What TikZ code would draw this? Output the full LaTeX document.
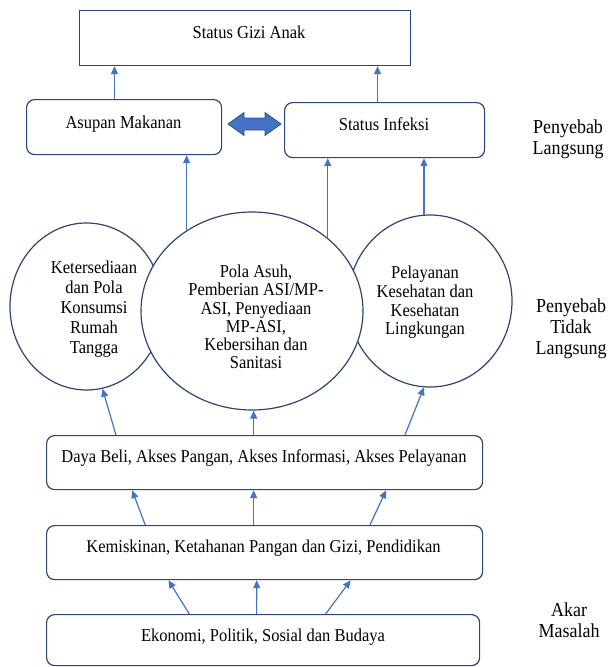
\documentclass[tikz,border=0pt]{standalone}
\usepackage{fontspec}
\setmainfont{Liberation Serif}
\usetikzlibrary{arrows.meta,shapes.geometric,calc}
\definecolor{boxc}{HTML}{2F4476}
\definecolor{arrc}{HTML}{4472C4}
\definecolor{dblc}{HTML}{2F528F}
\begin{document}
\begin{tikzpicture}[x=1pt,y=-1pt,
  sqbox/.style={draw=boxc, line width=1.2pt, inner sep=0pt, anchor=north west},
  rbox/.style={sqbox, rounded corners=8pt},
  circ/.style={ellipse, draw=boxc, line width=1.2pt, inner sep=0pt, fill=white},
  txt/.style={font=\fontsize{16.5}{17.7}\selectfont, inner sep=0pt, align=center, yscale=1.1},
  side/.style={font=\fontsize{18}{19}\selectfont, inner sep=0pt, align=center, yscale=1.1},
  arr/.style={draw=arrc, line width=1.2pt, -{Triangle[length=8pt,width=7pt]}},
  dbl/.style={draw=dblc, fill=arrc, line width=0.8pt, line join=miter}]
\useasboundingbox (0,0) rectangle (612,667);

% boxes
\node[sqbox, minimum width=331pt, minimum height=55pt] (gizi) at (79,10) {};
\node[rbox, minimum width=195pt, minimum height=55pt] (asupan) at (26,99) {};
\node[rbox, minimum width=200pt, minimum height=55pt] (infeksi) at (284,102) {};
\node[rbox, minimum width=436pt, minimum height=54pt] (daya) at (46,435) {};
\node[rbox, minimum width=436pt, minimum height=54pt] (kem) at (46,525) {};
\node[rbox, minimum width=433pt, minimum height=51pt] (eko) at (46,614) {};

% box texts
\node[txt, anchor=base] (gizit) at (249,38.5) {Status Gizi Anak};
\node[txt, anchor=base] (asupant) at (123.5,128.5) {Asupan Makanan};
\node[txt, anchor=base] (infeksit) at (384,130.5) {Status Infeksi};
\node[txt, anchor=base] (dayat) at (264,462.5) {Daya Beli, Akses Pangan, Akses Informasi, Akses Pelayanan};
\node[txt, anchor=base] (kemt) at (263.5,552.5) {Kemiskinan, Ketahanan Pangan dan Gizi, Pendidikan};
\node[txt, anchor=base] (ekot) at (263,641.5) {Ekonomi, Politik, Sosial dan Budaya};

% circles
\node[circ, minimum width=153pt, minimum height=167pt] (left) at (86.5,306.5) {};
\node[circ, minimum width=164pt, minimum height=172pt] (right) at (430,301) {};
\node[circ, minimum width=222pt, minimum height=198pt] (mid) at (252,311) {};

\node[txt, font=\fontsize{16.5}{18.3}\selectfont] (leftt) at (94,309) {Ketersediaan\\dan Pola\\Konsumsi\\Rumah\\Tangga};
\node[txt, font=\fontsize{16.5}{16.6}\selectfont] (midt) at (256,317) {Pola Asuh,\\Pemberian ASI/MP-\\ASI, Penyediaan\\MP-ASI,\\Kebersihan dan\\Sanitasi};
\node[txt, font=\fontsize{16.5}{17}\selectfont] (rightt) at (425,302.5) {Pelayanan\\Kesehatan dan\\Kesehatan\\Lingkungan};

% side labels
\node[side] (s1) at (568,139.5) {Penyebab\\Langsung};
\node[side] (s2) at (571,329) {Penyebab\\Tidak\\Langsung};
\node[side] (s3) at (569,620) {Akar\\Masalah};

% double arrow
\coordinate (dc) at (254.5,124);
\draw[dbl, shift={(dc)}] (-26.5,0) -- (-10.5,-11.5) -- (-10.5,-6) -- (10.5,-6) -- (10.5,-11.5)
  -- (26.5,0) -- (10.5,11.5) -- (10.5,6) -- (-10.5,6) -- (-10.5,11.5) -- cycle;

% arrows to top
\coordinate (a1) at ($(asupan.north west)!0.451!(asupan.north east)$);
\coordinate (i1) at ($(infeksi.north west)!0.465!(infeksi.north east)$);
\draw[arr] (a1) -- (a1 |- gizi.south);
\draw[arr] (i1) -- (i1 |- gizi.south);

% circles to direct causes
\draw[arr] (mid.129) -- (mid.129 |- asupan.south);
\draw[arr] (mid.44.2) -- (mid.44.2 |- infeksi.south);
\draw[arr] (right.94.7) -- (right.94.7 |- infeksi.south);

% daya to circles
\coordinate (d1) at ($(daya.north west)!0.16!(daya.north east)$);
\coordinate (d2) at ($(daya.north west)!0.475!(daya.north east)$);
\coordinate (d3) at ($(daya.north west)!0.821!(daya.north east)$);
\draw[arr] (d1) -- (left.-79.5);
\draw[arr] (d2) -- (d2 |- mid.south);
\draw[arr] (d3) -- (right.-94.5);

% kemiskinan to daya
\draw[arr] ($(kem.north west)!0.227!(kem.north east)$) -- ($(daya.south west)!0.197!(daya.south east)$);
\draw[arr] ($(kem.north west)!0.475!(kem.north east)$) -- ($(daya.south west)!0.475!(daya.south east)$);
\draw[arr] ($(kem.north west)!0.741!(kem.north east)$) -- ($(daya.south west)!0.778!(daya.south east)$);

% ekonomi to kemiskinan
\draw[arr] ($(eko.north west)!0.33!(eko.north east)$) -- ($(kem.south west)!0.28!(kem.south east)$);
\draw[arr] ($(eko.north west)!0.485!(eko.north east)$) -- ($(kem.south west)!0.482!(kem.south east)$);
\draw[arr] ($(eko.north west)!0.644!(eko.north east)$) -- ($(kem.south west)!0.697!(kem.south east)$);
\end{tikzpicture}
\end{document}
